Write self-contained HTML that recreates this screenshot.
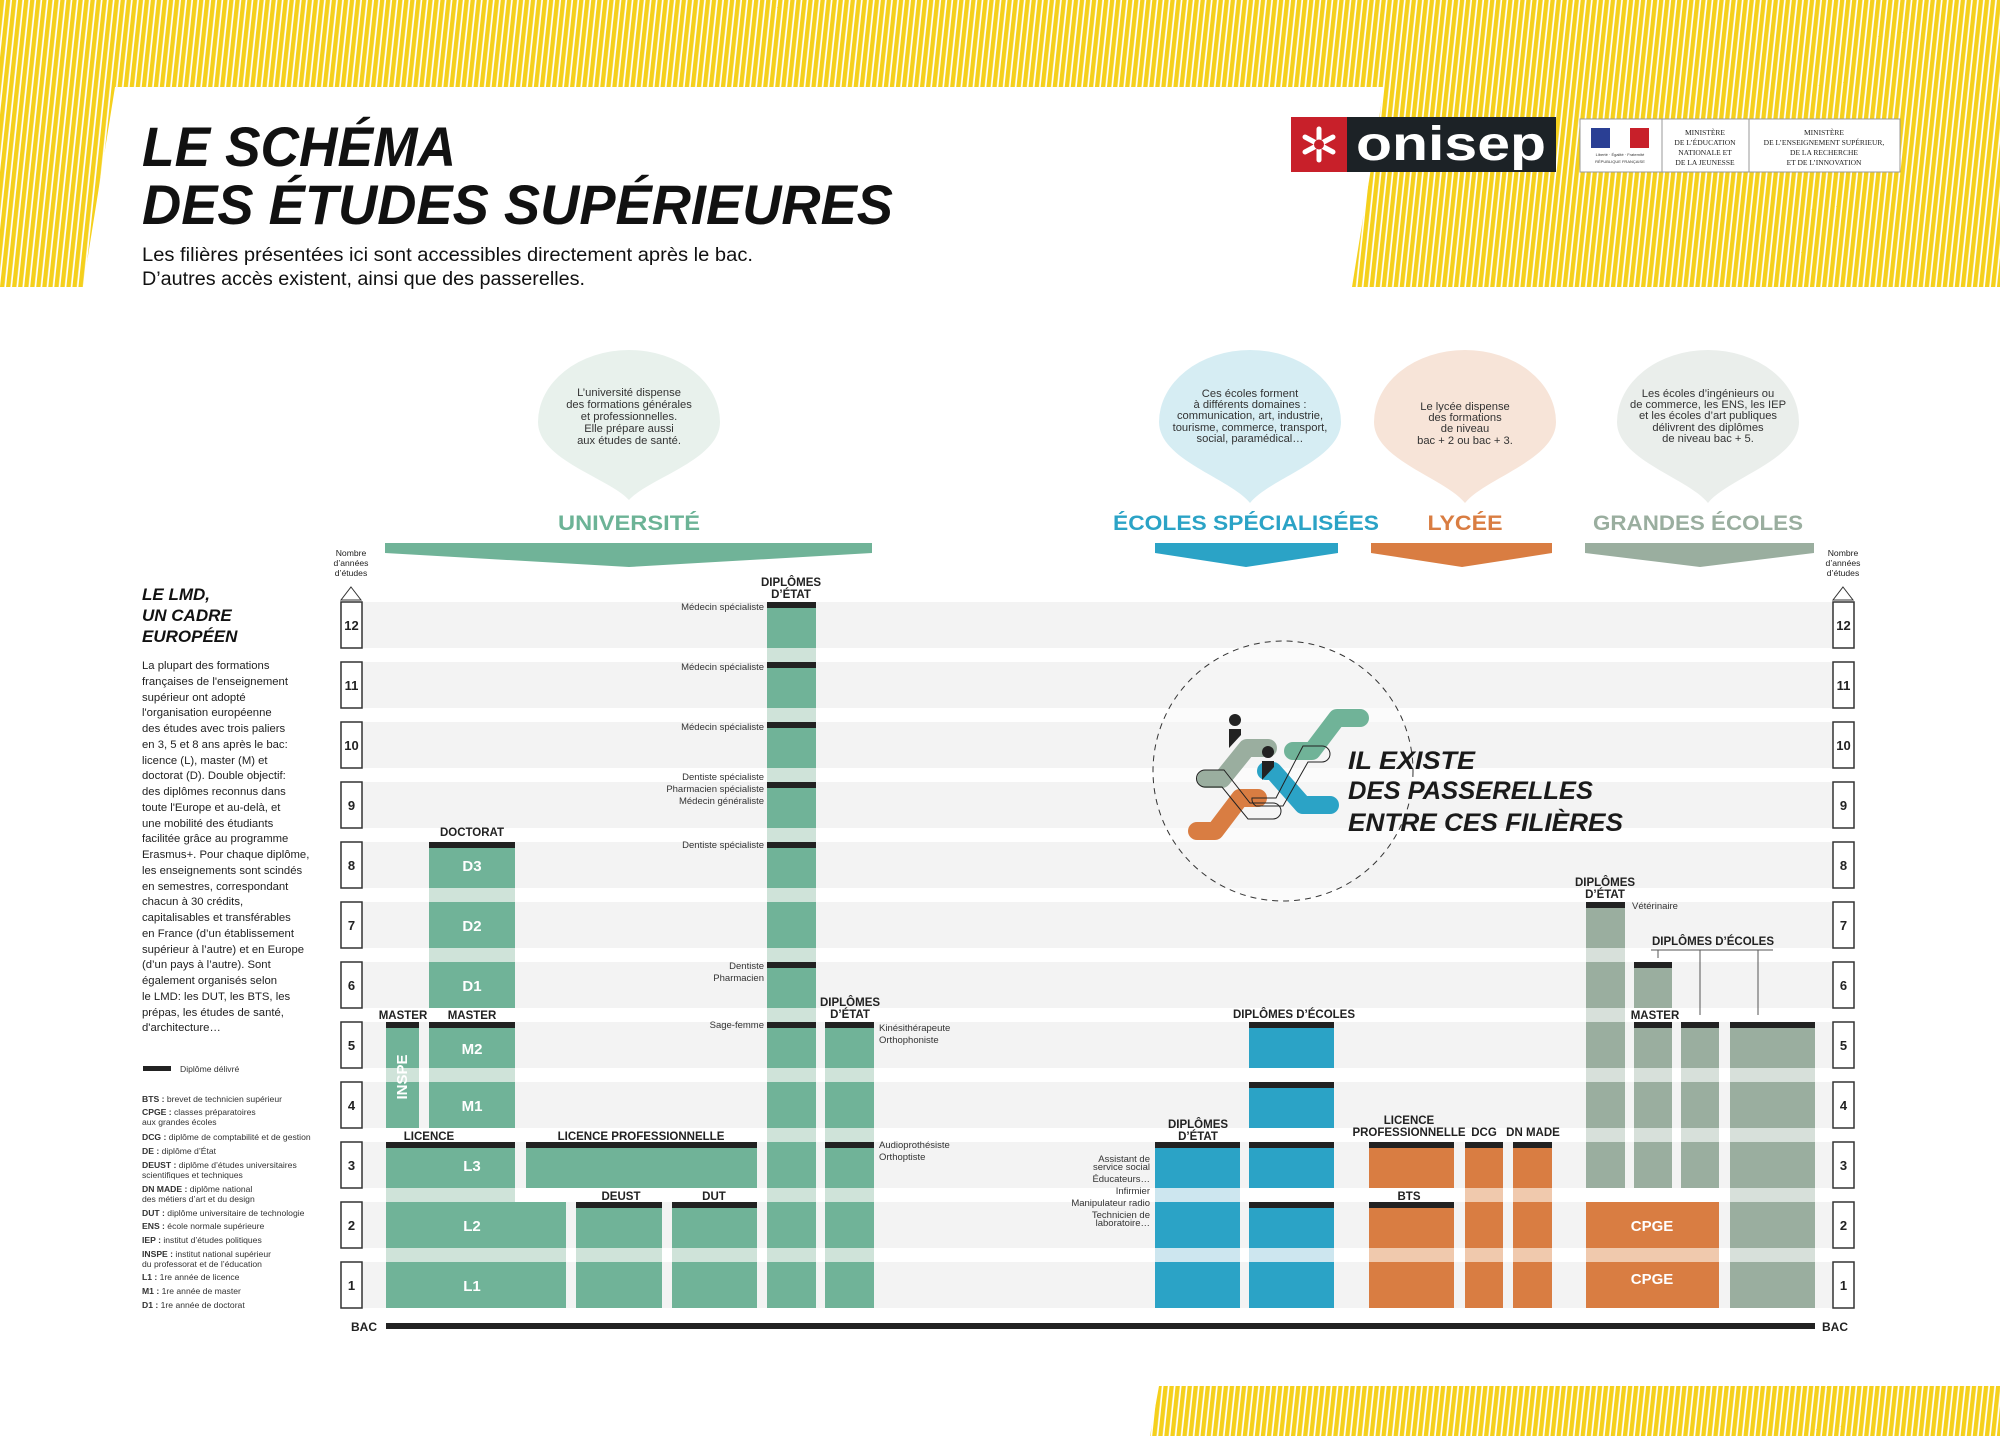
<!DOCTYPE html>
<html><head><meta charset="utf-8"><style>
html,body{margin:0;padding:0;background:#fff;}
svg{display:block;}
text{font-family:"Liberation Sans",sans-serif;}
.b{font-weight:bold;}
.lbl{font-weight:bold;font-size:11.5px;fill:#222;text-anchor:middle;}
.blk{font-weight:bold;font-size:15px;fill:#fff;text-anchor:middle;}
.sm{font-size:9.5px;fill:#333;}
.num{font-weight:bold;font-size:13px;fill:#222;text-anchor:middle;}
.bub{font-size:11.2px;fill:#333;text-anchor:middle;}
.ab{font-size:8.6px;fill:#333;}
</style></head><body>
<svg width="2000" height="1436" viewBox="0 0 2000 1436" xmlns="http://www.w3.org/2000/svg">
<defs>
<pattern id="st" patternUnits="userSpaceOnUse" width="6" height="40" patternTransform="rotate(6)">
<rect width="6" height="40" fill="#fff"/><rect width="4.3" height="40" fill="#f5d01c"/></pattern>
<pattern id="bg" patternUnits="userSpaceOnUse" width="10" height="60"><rect width="10" height="60" fill="#fff"/><rect y="2" width="10" height="46" fill="#f3f3f3"/></pattern>
<pattern id="pG" patternUnits="userSpaceOnUse" width="10" height="60"><rect width="10" height="60" fill="#cfe3d9"/><rect y="2" width="10" height="46" fill="#70b398"/></pattern>
<pattern id="pB" patternUnits="userSpaceOnUse" width="10" height="60"><rect width="10" height="60" fill="#cde6ef"/><rect y="2" width="10" height="46" fill="#2ba3c6"/></pattern>
<pattern id="pO" patternUnits="userSpaceOnUse" width="10" height="60"><rect width="10" height="60" fill="#f0c9ad"/><rect y="2" width="10" height="46" fill="#d97d42"/></pattern>
<pattern id="pR" patternUnits="userSpaceOnUse" width="10" height="60"><rect width="10" height="60" fill="#d7e0da"/><rect y="2" width="10" height="46" fill="#9aae9f"/></pattern>
</defs>

<!-- stripes -->
<polygon points="0,0 2000,0 2000,287 1352,287 1384,87 115,87 83,287 0,287" fill="url(#st)"/>
<polygon points="1159,1386 2000,1386 2000,1436 1150,1436" fill="url(#st)"/>

<!-- title -->
<text x="142" y="166" font-size="56" font-weight="bold" font-style="italic" fill="#111" textLength="314" lengthAdjust="spacingAndGlyphs">LE SCHÉMA</text>
<text x="142" y="224" font-size="56" font-weight="bold" font-style="italic" fill="#111" textLength="751" lengthAdjust="spacingAndGlyphs">DES ÉTUDES SUPÉRIEURES</text>
<text x="142" y="261" font-size="19" fill="#111" textLength="611" lengthAdjust="spacingAndGlyphs">Les filières présentées ici sont accessibles directement après le bac.</text>
<text x="142" y="285" font-size="19" fill="#111" textLength="443" lengthAdjust="spacingAndGlyphs">D’autres accès existent, ainsi que des passerelles.</text>

<!-- logos -->
<rect x="1291" y="117" width="56" height="55" fill="#c8202a"/>
<rect x="1347" y="117" width="209" height="55" fill="#1c2226"/>
<g stroke="#fff" stroke-width="5" stroke-linecap="round">
<line x1="1319" y1="129" x2="1319" y2="160"/><line x1="1305" y1="137" x2="1333" y2="152"/><line x1="1305" y1="152" x2="1333" y2="137"/></g>
<circle cx="1319" cy="144.5" r="5" fill="#c8202a"/>
<text x="1451" y="160" font-size="48" font-weight="bold" fill="#fff" text-anchor="middle" textLength="190" lengthAdjust="spacingAndGlyphs">onisep</text>
<rect x="1580" y="119" width="320" height="53" fill="#fff" stroke="#999" stroke-width="1"/>
<line x1="1662" y1="119" x2="1662" y2="172" stroke="#999"/><line x1="1749" y1="119" x2="1749" y2="172" stroke="#999"/>
<rect x="1591" y="128" width="19" height="20" fill="#2a3f94"/><rect x="1610" y="128" width="20" height="20" fill="#fff"/><rect x="1630" y="128" width="19" height="20" fill="#c8202a"/>
<text x="1620" y="156" font-size="4" text-anchor="middle" font-family="Liberation Serif" fill="#333">Liberté · Égalité · Fraternité</text>
<text x="1620" y="163" font-size="4" text-anchor="middle" font-family="Liberation Serif" fill="#333">RÉPUBLIQUE FRANÇAISE</text>
<g font-family="Liberation Serif" font-size="7.5" fill="#222" text-anchor="middle">
<text x="1705" y="135" style="font-family:'Liberation Serif'">MINISTÈRE</text><text x="1705" y="145" style="font-family:'Liberation Serif'">DE L’ÉDUCATION</text><text x="1705" y="155" style="font-family:'Liberation Serif'">NATIONALE ET</text><text x="1705" y="165" style="font-family:'Liberation Serif'">DE LA JEUNESSE</text>
<text x="1824" y="135" style="font-family:'Liberation Serif'">MINISTÈRE</text><text x="1824" y="145" style="font-family:'Liberation Serif'">DE L’ENSEIGNEMENT SUPÉRIEUR,</text><text x="1824" y="155" style="font-family:'Liberation Serif'">DE LA RECHERCHE</text><text x="1824" y="165" style="font-family:'Liberation Serif'">ET DE L’INNOVATION</text></g>

<!-- bubbles -->
<path d="M538,422 A91,72 0 1,1 720,422 C720,460 649,478 629,500 C609,478 538,460 538,422 Z" fill="#e8f1ec"/>
<path d="M1159,422 A91,72 0 1,1 1341,422 C1341,460 1270,478 1250,503 C1230,478 1159,460 1159,422 Z" fill="#d6edf3"/>
<path d="M1374,422 A91,72 0 1,1 1556,422 C1556,460 1485,478 1465,503 C1445,478 1374,460 1374,422 Z" fill="#f7e4d8"/>
<path d="M1617,422 A91,72 0 1,1 1799,422 C1799,460 1728,478 1708,503 C1688,478 1617,460 1617,422 Z" fill="#eaeeeb"/>
<text class="bub" x="629" y="396">L’université dispense</text><text class="bub" x="629" y="408">des formations générales</text><text class="bub" x="629" y="420">et professionnelles.</text><text class="bub" x="629" y="432">Elle prépare aussi</text><text class="bub" x="629" y="444">aux études de santé.</text>
<text class="bub" x="1250" y="397">Ces écoles forment</text><text class="bub" x="1250" y="408">à différents domaines :</text><text class="bub" x="1250" y="419">communication, art, industrie,</text><text class="bub" x="1250" y="431">tourisme, commerce, transport,</text><text class="bub" x="1250" y="442">social, paramédical…</text>
<text class="bub" x="1465" y="410">Le lycée dispense</text><text class="bub" x="1465" y="421">des formations</text><text class="bub" x="1465" y="432">de niveau</text><text class="bub" x="1465" y="444">bac + 2 ou bac + 3.</text>
<text class="bub" x="1708" y="397">Les écoles d’ingénieurs ou</text><text class="bub" x="1708" y="408">de commerce, les ENS, les IEP</text><text class="bub" x="1708" y="419">et les écoles d’art publiques</text><text class="bub" x="1708" y="431">délivrent des diplômes</text><text class="bub" x="1708" y="442">de niveau bac + 5.</text>

<!-- headings -->
<g font-size="21" font-weight="bold" text-anchor="middle">
<text x="629" y="530" fill="#6cb396" textLength="142" lengthAdjust="spacingAndGlyphs">UNIVERSITÉ</text>
<text x="1246" y="530" fill="#2ba3c6" textLength="266" lengthAdjust="spacingAndGlyphs">ÉCOLES SPÉCIALISÉES</text>
<text x="1465" y="530" fill="#d97d42" textLength="75" lengthAdjust="spacingAndGlyphs">LYCÉE</text>
<text x="1698" y="530" fill="#9aae9f" textLength="210" lengthAdjust="spacingAndGlyphs">GRANDES ÉCOLES</text></g>
<polygon points="385,543 872,543 872,553 629,567 385,553" fill="#70b398"/>
<polygon points="1155,543 1338,543 1338,553 1246,567 1155,553" fill="#2ba3c6"/>
<polygon points="1371,543 1552,543 1552,553 1462,567 1371,553" fill="#d97d42"/>
<polygon points="1585,543 1814,543 1814,553 1700,567 1585,553" fill="#9aae9f"/>

<!-- left text -->
<g font-weight="bold" font-style="italic" font-size="17" fill="#111">
<text x="142" y="600">LE LMD,</text><text x="142" y="621">UN CADRE</text><text x="142" y="642">EUROPÉEN</text></g>
<g font-size="11.3" fill="#222">
<text x="142" y="669">La plupart des formations</text>
<text x="142" y="685">françaises de l'enseignement</text>
<text x="142" y="701">supérieur ont adopté</text>
<text x="142" y="716">l'organisation européenne</text>
<text x="142" y="732">des études avec trois paliers</text>
<text x="142" y="748">en 3, 5 et 8 ans après le bac:</text>
<text x="142" y="764">licence (L), master (M) et</text>
<text x="142" y="779">doctorat (D). Double objectif:</text>
<text x="142" y="795">des diplômes reconnus dans</text>
<text x="142" y="811">toute l'Europe et au-delà, et</text>
<text x="142" y="827">une mobilité des étudiants</text>
<text x="142" y="842">facilitée grâce au programme</text>
<text x="142" y="858">Erasmus+. Pour chaque diplôme,</text>
<text x="142" y="874">les enseignements sont scindés</text>
<text x="142" y="890">en semestres, correspondant</text>
<text x="142" y="905">chacun à 30 crédits,</text>
<text x="142" y="921">capitalisables et transférables</text>
<text x="142" y="937">en France (d’un établissement</text>
<text x="142" y="953">supérieur à l’autre) et en Europe</text>
<text x="142" y="968">(d’un pays à l’autre). Sont</text>
<text x="142" y="984">également organisés selon</text>
<text x="142" y="1000">le LMD: les DUT, les BTS, les</text>
<text x="142" y="1016">prépas, les études de santé,</text>
<text x="142" y="1031">d'architecture…</text></g>
<rect x="143" y="1066" width="28" height="5" fill="#222"/>
<text x="180" y="1072" class="ab">Diplôme délivré</text>
<g class="ab">
<text x="142" y="1102" class="ab"><tspan font-weight="bold">BTS :</tspan> brevet de technicien supérieur</text>
<text x="142" y="1115" class="ab"><tspan font-weight="bold">CPGE :</tspan> classes préparatoires</text>
<text x="142" y="1125" class="ab">aux grandes écoles</text>
<text x="142" y="1140" class="ab"><tspan font-weight="bold">DCG :</tspan> diplôme de comptabilité et de gestion</text>
<text x="142" y="1154" class="ab"><tspan font-weight="bold">DE :</tspan> diplôme d’État</text>
<text x="142" y="1168" class="ab"><tspan font-weight="bold">DEUST :</tspan> diplôme d’études universitaires</text>
<text x="142" y="1178" class="ab">scientifiques et techniques</text>
<text x="142" y="1192" class="ab"><tspan font-weight="bold">DN MADE :</tspan> diplôme national</text>
<text x="142" y="1202" class="ab">des métiers d’art et du design</text>
<text x="142" y="1216" class="ab"><tspan font-weight="bold">DUT :</tspan> diplôme universitaire de technologie</text>
<text x="142" y="1229" class="ab"><tspan font-weight="bold">ENS :</tspan> école normale supérieure</text>
<text x="142" y="1243" class="ab"><tspan font-weight="bold">IEP :</tspan> institut d’études politiques</text>
<text x="142" y="1257" class="ab"><tspan font-weight="bold">INSPE :</tspan> institut national supérieur</text>
<text x="142" y="1267" class="ab">du professorat et de l’éducation</text>
<text x="142" y="1280" class="ab"><tspan font-weight="bold">L1 :</tspan> 1re année de licence</text>
<text x="142" y="1294" class="ab"><tspan font-weight="bold">M1 :</tspan> 1re année de master</text>
<text x="142" y="1308" class="ab"><tspan font-weight="bold">D1 :</tspan> 1re année de doctorat</text></g>

<!-- axis labels -->
<g font-size="8.6" fill="#222" text-anchor="middle">
<text x="351" y="556">Nombre</text><text x="351" y="566">d’années</text><text x="351" y="576">d’études</text>
<text x="1843" y="556">Nombre</text><text x="1843" y="566">d’années</text><text x="1843" y="576">d’études</text></g>
<polygon points="351,587 361,600 341,600" fill="#fff" stroke="#333" stroke-width="1"/>
<polygon points="1843,587 1853,600 1833,600" fill="#fff" stroke="#333" stroke-width="1"/>

<!-- background bands -->
<rect x="340" y="602" width="1513" height="706" fill="url(#bg)"/>

<!-- passerelles -->
<circle cx="1283" cy="771" r="130" fill="#f7f7f7" fill-opacity="0.5" stroke="#333" stroke-width="1" stroke-dasharray="6 5"/>
<g fill="none" stroke-linecap="round" stroke-linejoin="round" stroke-width="18">
<polyline points="1206,779 1222,779 1247,748 1268,748" stroke="#9aae9f"/>
<polyline points="1293,751 1312,751 1337,718 1360,718" stroke="#70b398"/>
<polyline points="1266,771 1273,771 1303,805 1330,805" stroke="#2ba3c6"/>
<polyline points="1197,831 1215,831 1240,798 1258,798" stroke="#d97d42"/>
</g>
<g fill="none" stroke="#222" stroke-width="1">
<path d="M1205,770 L1224,770 L1250,803 L1273,803 A8,8 0 0 1 1273,819 L1248,819 L1222,787 L1205,787 A8,8 0 0 1 1205,770 Z"/>
<path d="M1252,798 L1276,798 L1303,746 L1322,746 A8,8 0 0 1 1322,762 L1308,762 L1283,806 L1256,806 A8,8 0 0 1 1252,798 Z"/>
</g>
<circle cx="1235" cy="720" r="6" fill="#222"/><path d="M1229,729 L1241,729 L1241,735 L1229,748 Z" fill="#222"/>
<circle cx="1268" cy="752" r="6" fill="#222"/><path d="M1262,761 L1274,761 L1274,767 L1262,780 Z" fill="#222"/>
<g font-size="25" font-weight="bold" font-style="italic" fill="#1a1a1a">
<text x="1348" y="769" textLength="127" lengthAdjust="spacingAndGlyphs">IL EXISTE</text>
<text x="1348" y="799" textLength="245" lengthAdjust="spacingAndGlyphs">DES PASSERELLES</text>
<text x="1348" y="831" textLength="275" lengthAdjust="spacingAndGlyphs">ENTRE CES FILIÈRES</text></g>

<!-- row number boxes -->
<g fill="#fff" stroke="#333" stroke-width="1.5">
<rect x="341" y="1262" width="21" height="46"/><rect x="341" y="1202" width="21" height="46"/><rect x="341" y="1142" width="21" height="46"/><rect x="341" y="1082" width="21" height="46"/><rect x="341" y="1022" width="21" height="46"/><rect x="341" y="962" width="21" height="46"/><rect x="341" y="902" width="21" height="46"/><rect x="341" y="842" width="21" height="46"/><rect x="341" y="782" width="21" height="46"/><rect x="341" y="722" width="21" height="46"/><rect x="341" y="662" width="21" height="46"/><rect x="341" y="602" width="21" height="46"/>
<rect x="1833" y="1262" width="21" height="46"/><rect x="1833" y="1202" width="21" height="46"/><rect x="1833" y="1142" width="21" height="46"/><rect x="1833" y="1082" width="21" height="46"/><rect x="1833" y="1022" width="21" height="46"/><rect x="1833" y="962" width="21" height="46"/><rect x="1833" y="902" width="21" height="46"/><rect x="1833" y="842" width="21" height="46"/><rect x="1833" y="782" width="21" height="46"/><rect x="1833" y="722" width="21" height="46"/><rect x="1833" y="662" width="21" height="46"/><rect x="1833" y="602" width="21" height="46"/></g>
<g class="num">
<text class="num" x="351.5" y="1290">1</text><text class="num" x="351.5" y="1230">2</text><text class="num" x="351.5" y="1170">3</text><text class="num" x="351.5" y="1110">4</text><text class="num" x="351.5" y="1050">5</text><text class="num" x="351.5" y="990">6</text><text class="num" x="351.5" y="930">7</text><text class="num" x="351.5" y="870">8</text><text class="num" x="351.5" y="810">9</text><text class="num" x="351.5" y="750">10</text><text class="num" x="351.5" y="690">11</text><text class="num" x="351.5" y="630">12</text>
<text class="num" x="1843.5" y="1290">1</text><text class="num" x="1843.5" y="1230">2</text><text class="num" x="1843.5" y="1170">3</text><text class="num" x="1843.5" y="1110">4</text><text class="num" x="1843.5" y="1050">5</text><text class="num" x="1843.5" y="990">6</text><text class="num" x="1843.5" y="930">7</text><text class="num" x="1843.5" y="870">8</text><text class="num" x="1843.5" y="810">9</text><text class="num" x="1843.5" y="750">10</text><text class="num" x="1843.5" y="690">11</text><text class="num" x="1843.5" y="630">12</text></g>

<!-- university columns -->
<g fill="url(#pG)">
<rect x="386" y="1022" width="33" height="106"/>
<rect x="429" y="1022" width="86" height="106"/>
<rect x="429" y="842" width="86" height="166"/>
<rect x="386" y="1142" width="129" height="166"/>
<rect x="515" y="1202" width="51" height="106"/>
<rect x="526" y="1142" width="231" height="46"/>
<rect x="576" y="1202" width="86" height="106"/>
<rect x="672" y="1202" width="85" height="106"/>
<rect x="767" y="602" width="49" height="706"/>
<rect x="825" y="1022" width="49" height="286"/></g>
<!-- blue -->
<g fill="url(#pB)">
<rect x="1155" y="1142" width="85" height="166"/>
<rect x="1249" y="1202" width="85" height="106"/>
<rect x="1249" y="1142" width="85" height="46"/>
<rect x="1249" y="1082" width="85" height="46"/>
<rect x="1249" y="1022" width="85" height="46"/></g>
<!-- orange -->
<g fill="url(#pO)">
<rect x="1369" y="1202" width="85" height="106"/>
<rect x="1369" y="1142" width="85" height="46"/>
<rect x="1465" y="1142" width="38" height="166"/>
<rect x="1513" y="1142" width="39" height="166"/>
<rect x="1586" y="1202" width="133" height="106"/></g>
<!-- gray -->
<g fill="url(#pR)">
<rect x="1586" y="902" width="39" height="286"/>
<rect x="1634" y="1022" width="38" height="166"/>
<rect x="1634" y="962" width="38" height="46"/>
<rect x="1681" y="1022" width="38" height="166"/>
<rect x="1730" y="1022" width="85" height="286"/></g>

<!-- diploma bars -->
<g fill="#222">
<rect x="386" y="1022" width="33" height="6"/><rect x="429" y="1022" width="86" height="6"/><rect x="429" y="842" width="86" height="6"/>
<rect x="386" y="1142" width="129" height="6"/><rect x="526" y="1142" width="231" height="6"/>
<rect x="576" y="1202" width="86" height="6"/><rect x="672" y="1202" width="85" height="6"/>
<rect x="767" y="602" width="49" height="6"/><rect x="767" y="662" width="49" height="6"/><rect x="767" y="722" width="49" height="6"/><rect x="767" y="782" width="49" height="6"/><rect x="767" y="842" width="49" height="6"/><rect x="767" y="962" width="49" height="6"/><rect x="767" y="1022" width="49" height="6"/>
<rect x="825" y="1022" width="49" height="6"/><rect x="825" y="1142" width="49" height="6"/>
<rect x="1155" y="1142" width="85" height="6"/><rect x="1249" y="1202" width="85" height="6"/><rect x="1249" y="1142" width="85" height="6"/><rect x="1249" y="1082" width="85" height="6"/><rect x="1249" y="1022" width="85" height="6"/>
<rect x="1369" y="1202" width="85" height="6"/><rect x="1369" y="1142" width="85" height="6"/><rect x="1465" y="1142" width="38" height="6"/><rect x="1513" y="1142" width="39" height="6"/>
<rect x="1586" y="902" width="39" height="6"/><rect x="1634" y="1022" width="38" height="6"/><rect x="1634" y="962" width="38" height="6"/><rect x="1681" y="1022" width="38" height="6"/><rect x="1730" y="1022" width="85" height="6"/>
<rect x="386" y="1323" width="1429" height="6"/></g>

<!-- block labels -->
<text class="blk" x="472" y="871">D3</text><text class="blk" x="472" y="931">D2</text><text class="blk" x="472" y="991">D1</text>
<text class="blk" x="472" y="1054">M2</text><text class="blk" x="472" y="1111">M1</text>
<text class="blk" x="472" y="1171">L3</text><text class="blk" x="472" y="1231">L2</text><text class="blk" x="472" y="1291">L1</text>
<text class="blk" x="1652" y="1231" font-size="14">CPGE</text><text class="blk" x="1652" y="1284" font-size="14">CPGE</text>
<text class="blk" x="0" y="0" font-size="13" transform="translate(407,1077) rotate(-90)">INSPE</text>

<!-- column labels -->
<text class="lbl" x="472" y="836">DOCTORAT</text>
<text class="lbl" x="403" y="1019">MASTER</text><text class="lbl" x="472" y="1019">MASTER</text>
<text class="lbl" x="429" y="1140">LICENCE</text><text class="lbl" x="641" y="1140">LICENCE PROFESSIONNELLE</text>
<text class="lbl" x="621" y="1200">DEUST</text><text class="lbl" x="714" y="1200">DUT</text>
<text class="lbl" x="791" y="586">DIPLÔMES</text><text class="lbl" x="791" y="598">D’ÉTAT</text>
<text class="lbl" x="850" y="1006">DIPLÔMES</text><text class="lbl" x="850" y="1018">D’ÉTAT</text>
<text class="lbl" x="1294" y="1018">DIPLÔMES D’ÉCOLES</text>
<text class="lbl" x="1198" y="1128">DIPLÔMES</text><text class="lbl" x="1198" y="1140">D’ÉTAT</text>
<text class="lbl" x="1409" y="1124">LICENCE</text><text class="lbl" x="1409" y="1136">PROFESSIONNELLE</text>
<text class="lbl" x="1484" y="1136">DCG</text><text class="lbl" x="1533" y="1136">DN MADE</text>
<text class="lbl" x="1409" y="1200">BTS</text>
<text class="lbl" x="1605" y="886">DIPLÔMES</text><text class="lbl" x="1605" y="898">D’ÉTAT</text>
<text class="lbl" x="1713" y="945">DIPLÔMES D’ÉCOLES</text>
<text class="lbl" x="1655" y="1019">MASTER</text>
<g stroke="#555" stroke-width="1" fill="none">
<line x1="1651" y1="950" x2="1773" y2="950"/><line x1="1658" y1="950" x2="1658" y2="958"/><line x1="1700" y1="950" x2="1700" y2="1015"/><line x1="1758" y1="950" x2="1758" y2="1015"/></g>

<!-- small labels -->
<g class="sm" text-anchor="end">
<text class="sm" x="764" y="610">Médecin spécialiste</text>
<text class="sm" x="764" y="670">Médecin spécialiste</text>
<text class="sm" x="764" y="730">Médecin spécialiste</text>
<text class="sm" x="764" y="780">Dentiste spécialiste</text>
<text class="sm" x="764" y="792">Pharmacien spécialiste</text>
<text class="sm" x="764" y="804">Médecin généraliste</text>
<text class="sm" x="764" y="848">Dentiste spécialiste</text>
<text class="sm" x="764" y="969">Dentiste</text>
<text class="sm" x="764" y="981">Pharmacien</text>
<text class="sm" x="764" y="1028">Sage-femme</text>
<text class="sm" x="1150" y="1162">Assistant de</text>
<text class="sm" x="1150" y="1170">service social</text>
<text class="sm" x="1150" y="1182">Éducateurs…</text>
<text class="sm" x="1150" y="1194">Infirmier</text>
<text class="sm" x="1150" y="1206">Manipulateur radio</text>
<text class="sm" x="1150" y="1218">Technicien de</text>
<text class="sm" x="1150" y="1226">laboratoire…</text></g>
<text class="sm" x="879" y="1031">Kinésithérapeute</text><text class="sm" x="879" y="1043">Orthophoniste</text>
<text class="sm" x="879" y="1148">Audioprothésiste</text><text class="sm" x="879" y="1160">Orthoptiste</text>
<text class="sm" x="1632" y="909">Vétérinaire</text>

<text x="351" y="1331" font-size="12" font-weight="bold" fill="#222">BAC</text>
<text x="1822" y="1331" font-size="12" font-weight="bold" fill="#222">BAC</text>
</svg>
</body></html>
